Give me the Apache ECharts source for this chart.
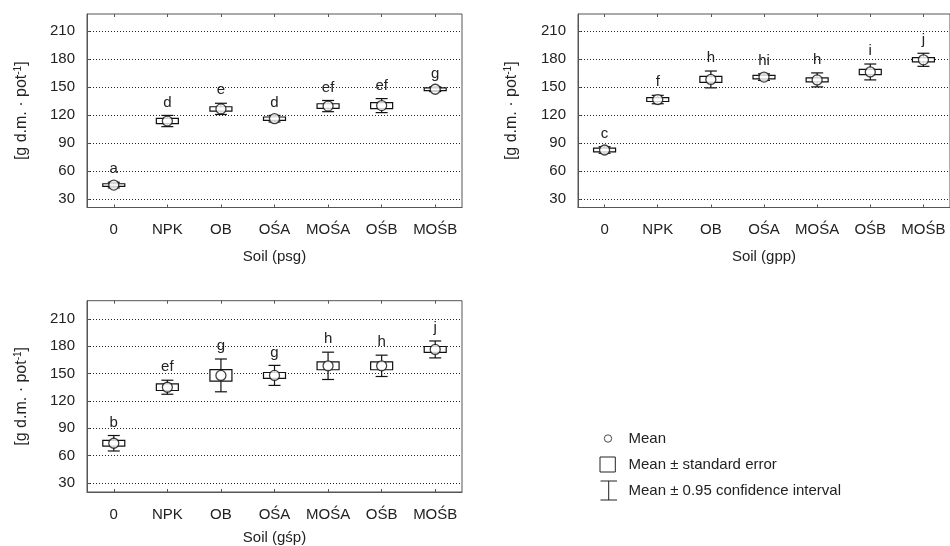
<!DOCTYPE html>
<html><head><meta charset="utf-8">
<script src="https://cdn.jsdelivr.net/npm/echarts@6/dist/echarts.min.js"></script>
<style>html,body{margin:0;padding:0;background:#fff}#c{width:950px;height:546px}</style>
</head><body><div id="c"></div>
<script>
const categories = ['0', 'NPK', 'OB', 'OŚA', 'MOŚA', 'OŚB', 'MOŚB'];
const yTicks = [30, 60, 90, 120, 150, 180, 210];

const psgMean = [45, 113.5, 126.5, 116, 129.5, 130, 147.5];
const psgSE = [1.4, 2.8, 2.3, 1.8, 2.5, 3.2, 1.4];
const psgCI = [3, 6, 6, 3.5, 6, 7.5, 2.5];
const psgLetters = ['a', 'd', 'e', 'd', 'ef', 'ef', 'g'];

const gppMean = [82.5, 136.5, 158, 160.5, 157.5, 166, 179];
const gppSE = [2, 2.1, 3.2, 1.8, 2.1, 2.8, 2.3];
const gppCI = [3.5, 4.5, 9, 3.5, 7.5, 8.5, 7];
const gppLetters = ['c', 'f', 'h', 'hi', 'h', 'i', 'j'];

const gspMean = [73.5, 135, 148, 148, 158.5, 158.5, 176.5];
const gspSE = [3.2, 3.6, 6.3, 3.2, 4.3, 4.3, 3.2];
const gspCI = [8.5, 7.7, 18, 11, 15, 11.7, 9.3];
const gspLetters = ['b', 'ef', 'g', 'g', 'h', 'h', 'j'];

const FONT = '"Liberation Sans", Arial, sans-serif';
const INK = '#111';
const TXT = '#222';
const AX = '#555';

const panels = [
  { title: 'Soil (psg)', mean: psgMean, se: psgSE, ci: psgCI, letters: psgLetters,
    grid: { left: 87, top: 14, width: 375, height: 193.5 }, min: 21, max: 228, yGap: 57, xGap: 42 },
  { title: 'Soil (gpp)', mean: gppMean, se: gppSE, ci: gppCI, letters: gppLetters,
    grid: { left: 578, top: 14, width: 374.5, height: 193.5 }, min: 21, max: 228, yGap: 58, xGap: 42 },
  { title: 'Soil (gśp)', mean: gspMean, se: gspSE, ci: gspCI, letters: gspLetters,
    grid: { left: 87, top: 300.7, width: 375, height: 194.6 }, min: 20, max: 230, yGap: 57, xGap: 38 }
];

const NAME_MEAN = 'Mean';
const NAME_SE = 'Mean ± standard error';
const NAME_CI = 'Mean ± 0.95 confidence interval';

const grids = [], xAxes = [], yAxes = [], series = [];
panels.forEach((p, i) => {
  grids.push(Object.assign({ show: true, borderColor: AX, borderWidth: 1, containLabel: false }, p.grid));
  xAxes.push({
    type: 'category', gridIndex: i, data: categories, position: 'bottom',
    name: p.title, nameLocation: 'middle', nameGap: p.xGap,
    nameTextStyle: { fontSize: 15, color: TXT, fontFamily: FONT },
    axisLine: { show: true, lineStyle: { color: AX, width: 1 } },
    axisTick: { show: true, inside: true, length: 3, alignWithLabel: true, lineStyle: { color: AX } },
    axisLabel: { fontSize: 15, color: TXT, fontFamily: FONT, margin: 15, interval: 0 },
    splitLine: { show: false }
  });
  xAxes.push({
    type: 'category', gridIndex: i, data: categories, position: 'top',
    axisLine: { show: false },
    axisTick: { show: true, inside: true, length: 3, alignWithLabel: true, lineStyle: { color: AX } },
    axisLabel: { show: false }, splitLine: { show: false }
  });
  yAxes.push({
    type: 'value', gridIndex: i, min: p.min, max: p.max,
    name: '{a|[g d.m. · pot}{s|-1}{a|]}', nameLocation: 'middle', nameGap: p.yGap, nameRotate: 90,
    nameTextStyle: { rich: {
      a: { fontSize: 16, color: TXT, fontFamily: FONT },
      s: { fontSize: 10, color: TXT, fontFamily: FONT, verticalAlign: 'top', padding: [0, 0, 7, 0] }
    } },
    axisLine: { show: true, lineStyle: { color: AX, width: 1 } },
    axisTick: { show: true, inside: true, length: 3, customValues: yTicks, lineStyle: { color: AX } },
    axisLabel: { fontSize: 15, color: TXT, fontFamily: FONT, margin: 12, customValues: yTicks },
    splitLine: { show: true, lineStyle: { color: '#222', width: 1, type: [1, 2] } }
  });

  const whiskerData = categories.map((c, j) => [j, p.mean[j], p.ci[j]]);
  const boxData = categories.map((c, j) => [j, p.mean[j], p.se[j]]);
  const meanData = categories.map((c, j) => [j, p.mean[j]]);
  const letters = p.letters;

  series.push({
    name: NAME_CI, type: 'custom', xAxisIndex: 2 * i, yAxisIndex: i, z: 2,
    encode: { x: 0, y: 1 }, data: whiskerData, silent: true,
    renderItem: function (params, api) {
      const x = api.value(0), m = api.value(1), ci = api.value(2);
      const t = api.coord([x, m + ci]);
      const b = api.coord([x, m - ci]);
      const ls = { stroke: INK, lineWidth: 1.2 };
      return { type: 'group', children: [
        { type: 'line', shape: { x1: t[0], y1: t[1], x2: b[0], y2: b[1] }, style: ls },
        { type: 'line', shape: { x1: t[0] - 6, y1: t[1], x2: t[0] + 6, y2: t[1] }, style: ls },
        { type: 'line', shape: { x1: b[0] - 6, y1: b[1], x2: b[0] + 6, y2: b[1] }, style: ls },
        { type: 'text', style: { text: letters[params.dataIndex], x: t[0], y: t[1] - 13,
          align: 'center', verticalAlign: 'middle', fontSize: 15, fontFamily: FONT, fill: TXT } }
      ] };
    }
  });
  series.push({
    name: NAME_SE, type: 'custom', xAxisIndex: 2 * i, yAxisIndex: i, z: 3,
    encode: { x: 0, y: 1 }, data: boxData, silent: true,
    renderItem: function (params, api) {
      const x = api.value(0), m = api.value(1), se = api.value(2);
      const t = api.coord([x, m + se]);
      const b = api.coord([x, m - se]);
      return { type: 'rect', shape: { x: t[0] - 11, y: t[1], width: 22, height: b[1] - t[1] },
        style: { fill: '#fff', stroke: INK, lineWidth: 1.2 } };
    }
  });
  series.push({
    name: NAME_MEAN, type: 'scatter', xAxisIndex: 2 * i, yAxisIndex: i, z: 4,
    data: meanData, symbol: 'circle', symbolSize: 10, silent: true,
    itemStyle: { color: '#fff', borderColor: INK, borderWidth: 1.3 }
  });
});

const legendStyle = { color: '#fff', borderColor: '#222', borderWidth: 1 };
const option = {
  animation: false,
  backgroundColor: '#fff',
  grid: grids, xAxis: xAxes, yAxis: yAxes, series: series,
  legend: {
    orient: 'vertical', left: 598, top: 428, padding: 0,
    itemWidth: 25, itemHeight: 20, itemGap: 5, selectedMode: false,
    textStyle: { fontSize: 15, color: TXT, fontFamily: FONT },
    data: [
      { name: NAME_MEAN, icon: 'path://M0 0M25 20M5.8 10A3.7 3.7 0 1 1 13.2 10A3.7 3.7 0 1 1 5.8 10Z', itemStyle: legendStyle },
      { name: NAME_SE, icon: 'path://M0 0M25 20M1.5 2.5L16.8 2.5L16.8 17.5L1.5 17.5Z', itemStyle: legendStyle },
      { name: NAME_CI, icon: 'path://M0 0M25 20M2 0.5L18.5 0.5M10.2 0.5L10.2 19.5M2 19.5L18.5 19.5', itemStyle: legendStyle }
    ]
  }
};
const chart = echarts.init(document.getElementById('c'), null, { renderer: 'canvas' });
chart.setOption(option);
</script></body></html>
